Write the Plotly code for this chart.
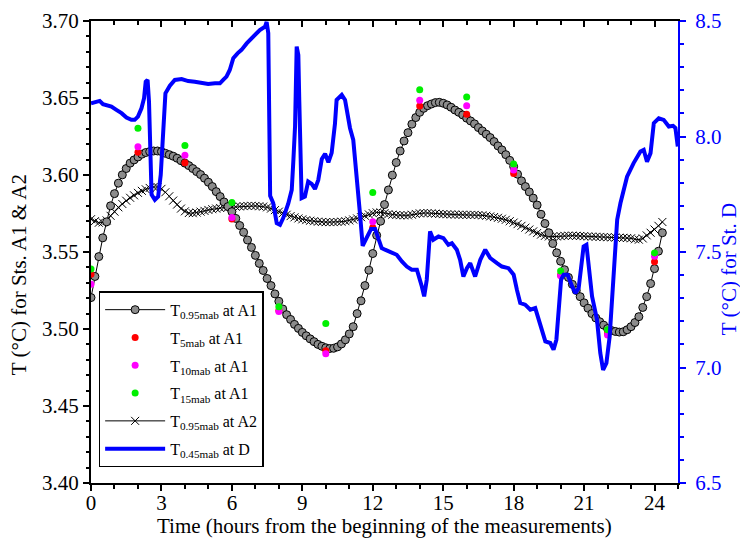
import plotly.graph_objects as go

# ---------------- data ----------------
# near-bottom sensors at A1 and A2: one sample every 10 minutes
sample_step_h = 10 / 60
a1_095 = [
    3.5204, 3.5341, 3.5470, 3.5592, 3.5696, 3.5800,
    3.5879, 3.5947, 3.6001, 3.6042, 3.6077, 3.6098,
    3.6117, 3.6135, 3.6146, 3.6152, 3.6156, 3.6156,
    3.6152, 3.6141, 3.6132, 3.6122, 3.6109, 3.6093,
    3.6077, 3.6061, 3.6042, 3.6022, 3.6003, 3.5979,
    3.5953, 3.5925, 3.5892, 3.5860, 3.5825, 3.5795,
    3.5762, 3.5718, 3.5672, 3.5628, 3.5578, 3.5530,
    3.5478, 3.5426, 3.5380, 3.5328, 3.5282, 3.5228,
    3.5180, 3.5130, 3.5093, 3.5062, 3.5030, 3.5004,
    3.4978, 3.4956, 3.4936, 3.4918, 3.4900, 3.4888,
    3.4878, 3.4873, 3.4875, 3.4884, 3.4903, 3.4930,
    3.4968, 3.5015, 3.5100, 3.5183, 3.5282, 3.5382,
    3.5490, 3.5608, 3.5700, 3.5808, 3.5903, 3.5999,
    3.6081, 3.6156, 3.6221, 3.6275, 3.6330, 3.6373,
    3.6407, 3.6433, 3.6450, 3.6461, 3.6470, 3.6472,
    3.6466, 3.6455, 3.6440, 3.6422, 3.6407, 3.6390,
    3.6369, 3.6351, 3.6332, 3.6308, 3.6286, 3.6265,
    3.6243, 3.6217, 3.6189, 3.6163, 3.6132, 3.6095,
    3.6055, 3.6005, 3.5962, 3.5925, 3.5890, 3.5850,
    3.5805, 3.5745, 3.5685, 3.5625, 3.5555, 3.5495,
    3.5440, 3.5385, 3.5335, 3.5290, 3.5250, 3.5210,
    3.5170, 3.5135, 3.5100, 3.5072, 3.5047, 3.5025,
    3.5003, 3.4990, 3.4984, 3.4980, 3.4982, 3.4995,
    3.5015, 3.5042, 3.5080, 3.5140, 3.5210, 3.5295,
    3.5392, 3.5505, 3.5625,
]
a2_095 = [
    3.5713, 3.5700, 3.5690, 3.5692, 3.5705, 3.5735,
    3.5762, 3.5790, 3.5812, 3.5833, 3.5852, 3.5868,
    3.5884, 3.5897, 3.5907, 3.5916, 3.5922, 3.5922,
    3.5910, 3.5888, 3.5862, 3.5834, 3.5808, 3.5782,
    3.5764, 3.5753, 3.5752, 3.5756, 3.5762, 3.5767,
    3.5773, 3.5778, 3.5782, 3.5786, 3.5789, 3.5790,
    3.5791, 3.5794, 3.5796, 3.5798, 3.5799, 3.5800,
    3.5799, 3.5797, 3.5795, 3.5790, 3.5782, 3.5772,
    3.5762, 3.5752, 3.5742, 3.5733, 3.5725, 3.5718,
    3.5712, 3.5707, 3.5703, 3.5700, 3.5697, 3.5695,
    3.5694, 3.5694, 3.5694, 3.5695, 3.5697, 3.5700,
    3.5705, 3.5711, 3.5718, 3.5726, 3.5735, 3.5744,
    3.5752, 3.5757, 3.5757, 3.5752, 3.5746, 3.5742,
    3.5740, 3.5739, 3.5738, 3.5738, 3.5742, 3.5747,
    3.5751, 3.5753, 3.5753, 3.5751, 3.5749, 3.5747,
    3.5746, 3.5745, 3.5744, 3.5743, 3.5742, 3.5742,
    3.5741, 3.5741, 3.5741, 3.5740, 3.5738, 3.5735,
    3.5731, 3.5727, 3.5722, 3.5716, 3.5709, 3.5700,
    3.5691, 3.5681, 3.5670, 3.5658, 3.5646, 3.5634,
    3.5623, 3.5613, 3.5605, 3.5601, 3.5600, 3.5601,
    3.5603, 3.5605, 3.5606, 3.5606, 3.5605, 3.5604,
    3.5603, 3.5601, 3.5600, 3.5599, 3.5598, 3.5597,
    3.5596, 3.5595, 3.5594, 3.5593, 3.5592, 3.5591,
    3.5589, 3.5583, 3.5580, 3.5588, 3.5608, 3.5625,
    3.5646, 3.5670, 3.5695,
]
sample_times = [i * sample_step_h for i in range(len(a1_095))]

# bi-hourly profiles at A1
profile_times = [0, 2, 4, 6, 8, 10, 12, 14, 16, 18, 20, 22, 24]
a1_5 = [3.5356, 3.6148, 3.6079, 3.5715, 3.5120, 3.4859, 3.5659,
        3.6448, 3.6394, 3.6009, 3.5350, 3.4970, 3.5437]
a1_10 = [3.5291, 3.6183, 3.6128, 3.5724, 3.5114, 3.4839, 3.5696,
         3.6485, 3.6450, 3.6033, 3.5345, 3.4961, 3.5473]
a1_15 = [3.5389, 3.6304, 3.6191, 3.5821, 3.5144, 3.5036, 3.5886,
         3.6554, 3.6507, 3.6072, 3.5376, 3.4995, 3.5494]

# station D at 0.45 mab
d_time = [
    0.00, 0.16, 0.37, 0.51, 0.66, 0.87, 1.08, 1.30, 1.51, 1.72,
    1.86, 2.00, 2.15, 2.26, 2.33, 2.41, 2.47, 2.53, 2.58, 2.72,
    2.86, 2.97, 3.07, 3.17, 3.36, 3.57, 3.86, 4.14, 4.42, 4.71,
    4.99, 5.28, 5.49, 5.63, 5.77, 5.91, 6.06, 6.24, 6.41, 6.63,
    6.84, 6.98, 7.19, 7.41, 7.48, 7.55, 7.60, 7.63, 7.76, 7.91,
    8.05, 8.19, 8.40, 8.55, 8.62, 8.69, 8.76, 8.83, 8.87, 8.90,
    8.97, 9.11, 9.25, 9.40, 9.54, 9.68, 9.83, 9.97, 10.11, 10.25,
    10.39, 10.46, 10.68, 10.82, 11.03, 11.17, 11.32, 11.46, 11.57, 11.74,
    11.93, 12.10, 12.24, 12.38, 12.52, 12.74, 13.02, 13.24, 13.45, 13.66,
    13.88, 14.09, 14.19, 14.30, 14.44, 14.58, 14.80, 15.01, 15.22, 15.37,
    15.58, 15.72, 15.86, 16.01, 16.15, 16.36, 16.58, 16.79, 17.00, 17.29,
    17.50, 17.78, 18.00, 18.14, 18.28, 18.49, 18.71, 18.92, 19.06, 19.21,
    19.35, 19.56, 19.70, 19.82, 19.91, 20.02, 20.13, 20.30, 20.49, 20.63,
    20.77, 20.91, 20.98, 21.10, 21.19, 21.34, 21.55, 21.69, 21.81, 21.95,
    22.09, 22.23, 22.41, 22.55, 22.76, 22.83, 23.11, 23.40, 23.54, 23.68,
    23.83, 23.97, 24.18, 24.39, 24.61, 24.79, 24.89, 24.99,
]
d_045 = [
    8.144, 8.148, 8.154, 8.140, 8.137, 8.129, 8.115, 8.101, 8.082, 8.072,
    8.072, 8.086, 8.122, 8.166, 8.237, 8.245, 8.151, 7.949, 7.748, 7.726,
    7.740, 7.834, 8.021, 8.187, 8.220, 8.245, 8.249, 8.240, 8.237, 8.233,
    8.227, 8.230, 8.230, 8.245, 8.259, 8.288, 8.339, 8.360, 8.375, 8.403,
    8.425, 8.439, 8.461, 8.475, 8.496, 8.447, 8.158, 7.743, 7.712, 7.625,
    7.618, 7.648, 7.709, 7.769, 7.899, 8.043, 8.389, 8.353, 8.158, 7.985,
    7.733, 7.740, 7.805, 7.795, 7.773, 7.812, 7.903, 7.925, 7.888, 7.929,
    8.055, 8.158, 8.180, 8.158, 8.037, 7.985, 7.838, 7.661, 7.527, 7.561,
    7.600, 7.600, 7.560, 7.517, 7.510, 7.502, 7.488, 7.459, 7.437, 7.423,
    7.423, 7.351, 7.308, 7.380, 7.589, 7.553, 7.567, 7.560, 7.531, 7.538,
    7.510, 7.466, 7.394, 7.430, 7.452, 7.394, 7.466, 7.510, 7.474, 7.452,
    7.437, 7.430, 7.402, 7.336, 7.279, 7.272, 7.250, 7.257, 7.207, 7.149,
    7.113, 7.106, 7.077, 7.120, 7.236, 7.380, 7.402, 7.402, 7.351, 7.322,
    7.344, 7.452, 7.524, 7.531, 7.452, 7.308, 7.207, 7.063, 6.990, 7.019,
    7.134, 7.336, 7.640, 7.712, 7.812, 7.826, 7.885, 7.935, 7.942, 7.891,
    7.928, 8.058, 8.079, 8.072, 8.043, 8.046, 8.037, 7.957,
]

FONT = "Liberation Serif, Times New Roman, serif"
BLUE = "#0000ff"

fig = go.Figure()

# helper trace that anchors the mirrored top axis
fig.add_trace(go.Scatter(x=[None], y=[None], xaxis="x2", yaxis="y",
                         showlegend=False, hoverinfo="skip"))

fig.add_trace(go.Scatter(
    x=sample_times, y=a2_095, mode="lines+markers", yaxis="y",
    name="T<sub>0.95mab</sub> at A2", legendrank=5, legendgroup="g5",
    line=dict(color="black", width=1),
    marker=dict(symbol="x-thin-open", size=8, color="black",
                line=dict(color="black", width=1)),
))
fig.add_trace(go.Scatter(
    x=sample_times, y=a1_095, mode="lines+markers", yaxis="y",
    name="T<sub>0.95mab</sub> at A1", legendrank=1, legendgroup="g1",
    line=dict(color="black", width=1),
    marker=dict(symbol="circle", size=8, color="#8c8c8c",
                line=dict(color="black", width=1)),
))
for vals, col, lab, rank in [
    (a1_5, "#ff0000", "T<sub>5mab</sub> at A1", 2),
    (a1_10, "#ff00ff", "T<sub>10mab</sub> at A1", 3),
    (a1_15, "#00f000", "T<sub>15mab</sub> at A1", 4),
]:
    fig.add_trace(go.Scatter(
        x=profile_times, y=vals, mode="markers", yaxis="y",
        name=lab, legendrank=rank, legendgroup=f"g{rank}",
        marker=dict(symbol="circle", size=7, color=col),
    ))

fig.add_trace(go.Scatter(
    x=d_time, y=d_045, mode="lines", yaxis="y2",
    name="T<sub>0.45mab</sub> at D", legendrank=6, legendgroup="g6",
    line=dict(color=BLUE, width=4),
))

tick_font = dict(family=FONT, size=21, color="black")

fig.update_layout(
    width=740, height=542,
    margin=dict(l=91, r=62, t=21, b=59, autoexpand=False),
    paper_bgcolor="white", plot_bgcolor="white",
    font=dict(family=FONT, size=21, color="black"),
    xaxis=dict(
        range=[0, 25], tick0=0, dtick=3, automargin=False,
        ticks="outside", ticklen=6, tickwidth=1.5, tickcolor="black",
        minor=dict(tick0=0, dtick=1, ticks="outside", ticklen=4,
                   tickwidth=1.5, tickcolor="black"),
        showline=True, linecolor="black", linewidth=2,
        showgrid=False, zeroline=False, tickfont=tick_font,
        ticklabelstandoff=-6,
    ),
    xaxis2=dict(
        overlaying="x", side="top", range=[0, 25], tick0=0, dtick=3,
        automargin=False,
        ticks="inside", ticklen=6, tickwidth=1.5, tickcolor="black",
        minor=dict(tick0=0, dtick=1, ticks="inside", ticklen=4,
                   tickwidth=1.5, tickcolor="black"),
        showticklabels=False, showline=True, linecolor="black", linewidth=2,
        showgrid=False, zeroline=False,
    ),
    yaxis=dict(
        range=[3.40, 3.70], tick0=3.40, dtick=0.05, tickformat=".2f",
        automargin=False,
        ticks="outside", ticklen=6, tickwidth=1.5, tickcolor="black",
        minor=dict(tick0=3.40, dtick=0.01, ticks="outside", ticklen=3,
                   tickwidth=1.5, tickcolor="black"),
        showline=True, linecolor="black", linewidth=2,
        showgrid=False, zeroline=False, tickfont=tick_font,
    ),
    yaxis2=dict(
        overlaying="y", side="right", automargin=False,
        range=[6.5, 8.5], tick0=6.5, dtick=0.5, tickformat=".1f",
        ticks="outside", ticklen=6, tickwidth=1.5, tickcolor=BLUE,
        minor=dict(tick0=6.5, dtick=0.1, ticks="outside", ticklen=4,
                   tickwidth=1.5, tickcolor=BLUE),
        showline=True, linecolor=BLUE, linewidth=2,
        showgrid=False, zeroline=False,
        tickfont=dict(family=FONT, size=21, color=BLUE),
        ticklabelstandoff=5,
    ),
    legend=dict(
        x=0.013, y=0.415, xanchor="left", yanchor="top",
        bgcolor="white", bordercolor="black", borderwidth=1.5,
        font=dict(family=FONT, size=16, color="black"),
        itemwidth=60, traceorder="grouped", tracegroupgap=4,
    ),
)

# axis titles placed in paper coordinates
title_font = dict(family=FONT, size=21, color="black")
fig.add_annotation(
    text="Time (hours from the beginning of the measurements)",
    xref="paper", yref="paper", x=0.5, y=-0.093,
    xanchor="center", yanchor="middle", showarrow=False, font=title_font,
)
fig.add_annotation(
    text="T (°C) for Sts. A1 & A2", textangle=-90,
    xref="paper", yref="paper", x=-0.1227, y=0.452,
    xanchor="center", yanchor="middle", showarrow=False, font=title_font,
)
fig.add_annotation(
    text="T (°C) for St. D", textangle=-90,
    xref="paper", yref="paper", x=1.087, y=0.463,
    xanchor="center", yanchor="middle", showarrow=False,
    font=dict(family=FONT, size=21, color=BLUE),
)

fig.write_html("out.html")
